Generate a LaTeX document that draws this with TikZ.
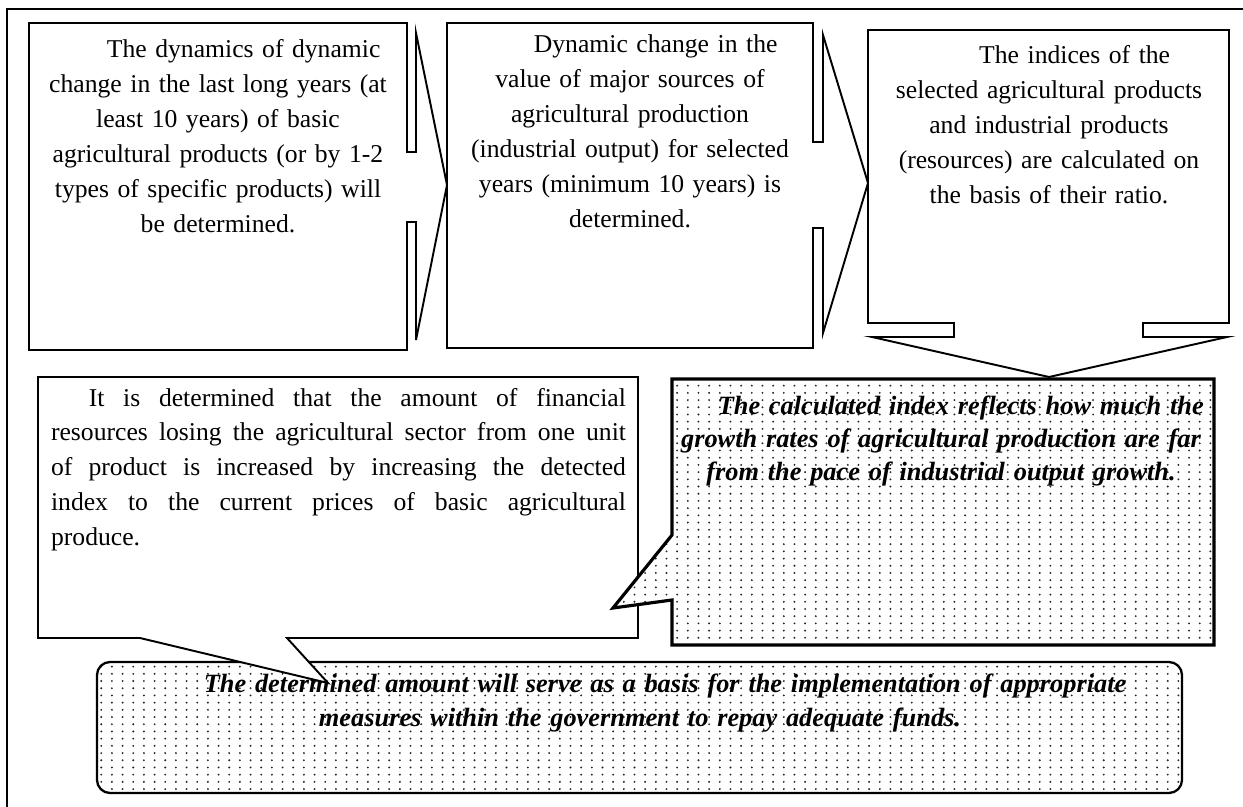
\documentclass[tikz,border=0pt]{standalone}
\usepackage{fontspec}
\setmainfont{Liberation Serif}
\usepackage{tikz}
\usetikzlibrary{patterns}

\pgfdeclarepatternformonly{sparsedots}{\pgfqpoint{-1pt}{-1pt}}{\pgfqpoint{7pt}{5pt}}{\pgfqpoint{6.07pt}{4.1pt}}{%
  \pgfpathcircle{\pgfqpoint{3pt}{2pt}}{0.6pt}\pgfusepath{fill}}

\begin{document}
\begin{tikzpicture}[
    x=0.02cm, y=-0.02cm, % pixel grid
    callout/.style={draw, line width=1.1pt, line join=miter, fill=white},
    dotfill/.style={draw, preaction={fill=white}, pattern=sparsedots, pattern color=black!85},
    txt/.style={font=\fontsize{14.6}{19.9}\selectfont, inner sep=0pt, anchor=base, align=center},
    boldtxt/.style={txt, font=\fontsize{15}{19.9}\selectfont\bfseries\itshape}
]
    \useasboundingbox (0,0) rectangle (1243,807);
    \draw[line width=0.8pt] (7,807) -- (7,9) -- (1243,9);

    % bottom rounded box
    \draw[dotfill, line width=1.3pt, rounded corners=0.26cm] (97,662) rectangle (1182,793);
    \node[boldtxt, text width=21cm] (serve) at (640,692) {\hspace*{1.9em}The determined amount will serve as a basis for the implementation of appropriate\\measures within the government to repay adequate funds.};

    % left callout
    \draw[callout] (38,377) -- (638,377) -- (638,638) -- (287,638) -- (328,683) -- (140,638) -- (38,638) -- cycle;
    \node[txt, text width=11.5cm, align=justify] (amount) at (338.5,406) {\hspace*{1.47em}It is determined that the amount of financial\linebreak resources losing the agricultural sector from one unit\linebreak of product is increased by increasing the detected\linebreak index to the current prices of basic agricultural\linebreak produce.};

    % right callout
    \draw[dotfill, line width=1.8pt, line join=miter] (672,379) -- (1214,379) -- (1214,645) -- (672,645) -- (672,600) -- (613,608) -- (672,535) -- cycle;
    \node[boldtxt, font=\fontsize{15}{18.8}\selectfont\bfseries\itshape, text width=11cm] (index) at (941,414) {\hspace*{1.5em}The calculated index reflects how much the\\growth rates of agricultural production are far\\from the pace of industrial output growth.};

    % top row
    \draw[callout] (29,23) -- (407,23) -- (407,152) -- (416,152) -- (416,33) -- (447,185) -- (416,340) -- (416,222) -- (407,222) -- (407,350) -- (29,350) -- cycle;
    \node[txt, text width=7.2cm] (dynamics) at (218,58) {\hspace*{2em}The dynamics of dynamic\\change in the last long years (at\\least 10 years) of basic\\agricultural products (or by 1-2\\types of specific products) will\\be determined.};

    \draw[callout] (447,23) -- (813,23) -- (813,142) -- (823,142) -- (823,35) -- (868,183) -- (823,333) -- (823,228) -- (813,228) -- (813,348) -- (447,348) -- cycle;
    \node[txt, text width=7cm] (sources) at (630,53) {\hspace*{2em}Dynamic change in the\\value of major sources of\\agricultural production\\(industrial output) for selected\\years (minimum 10 years) is\\determined.};

    \draw[callout] (868,30) -- (1229,30) -- (1229,323) -- (1143,323) -- (1143,337) -- (1227,337) -- (1049,377) -- (872,337) -- (954,337) -- (954,323) -- (868,323) -- cycle;
    \node[txt, text width=7cm] (indices) at (1049,64) {\hspace*{2em}The indices of the\\selected agricultural products\\and industrial products\\(resources) are calculated on\\the basis of their ratio.};
\end{tikzpicture}
\end{document}
